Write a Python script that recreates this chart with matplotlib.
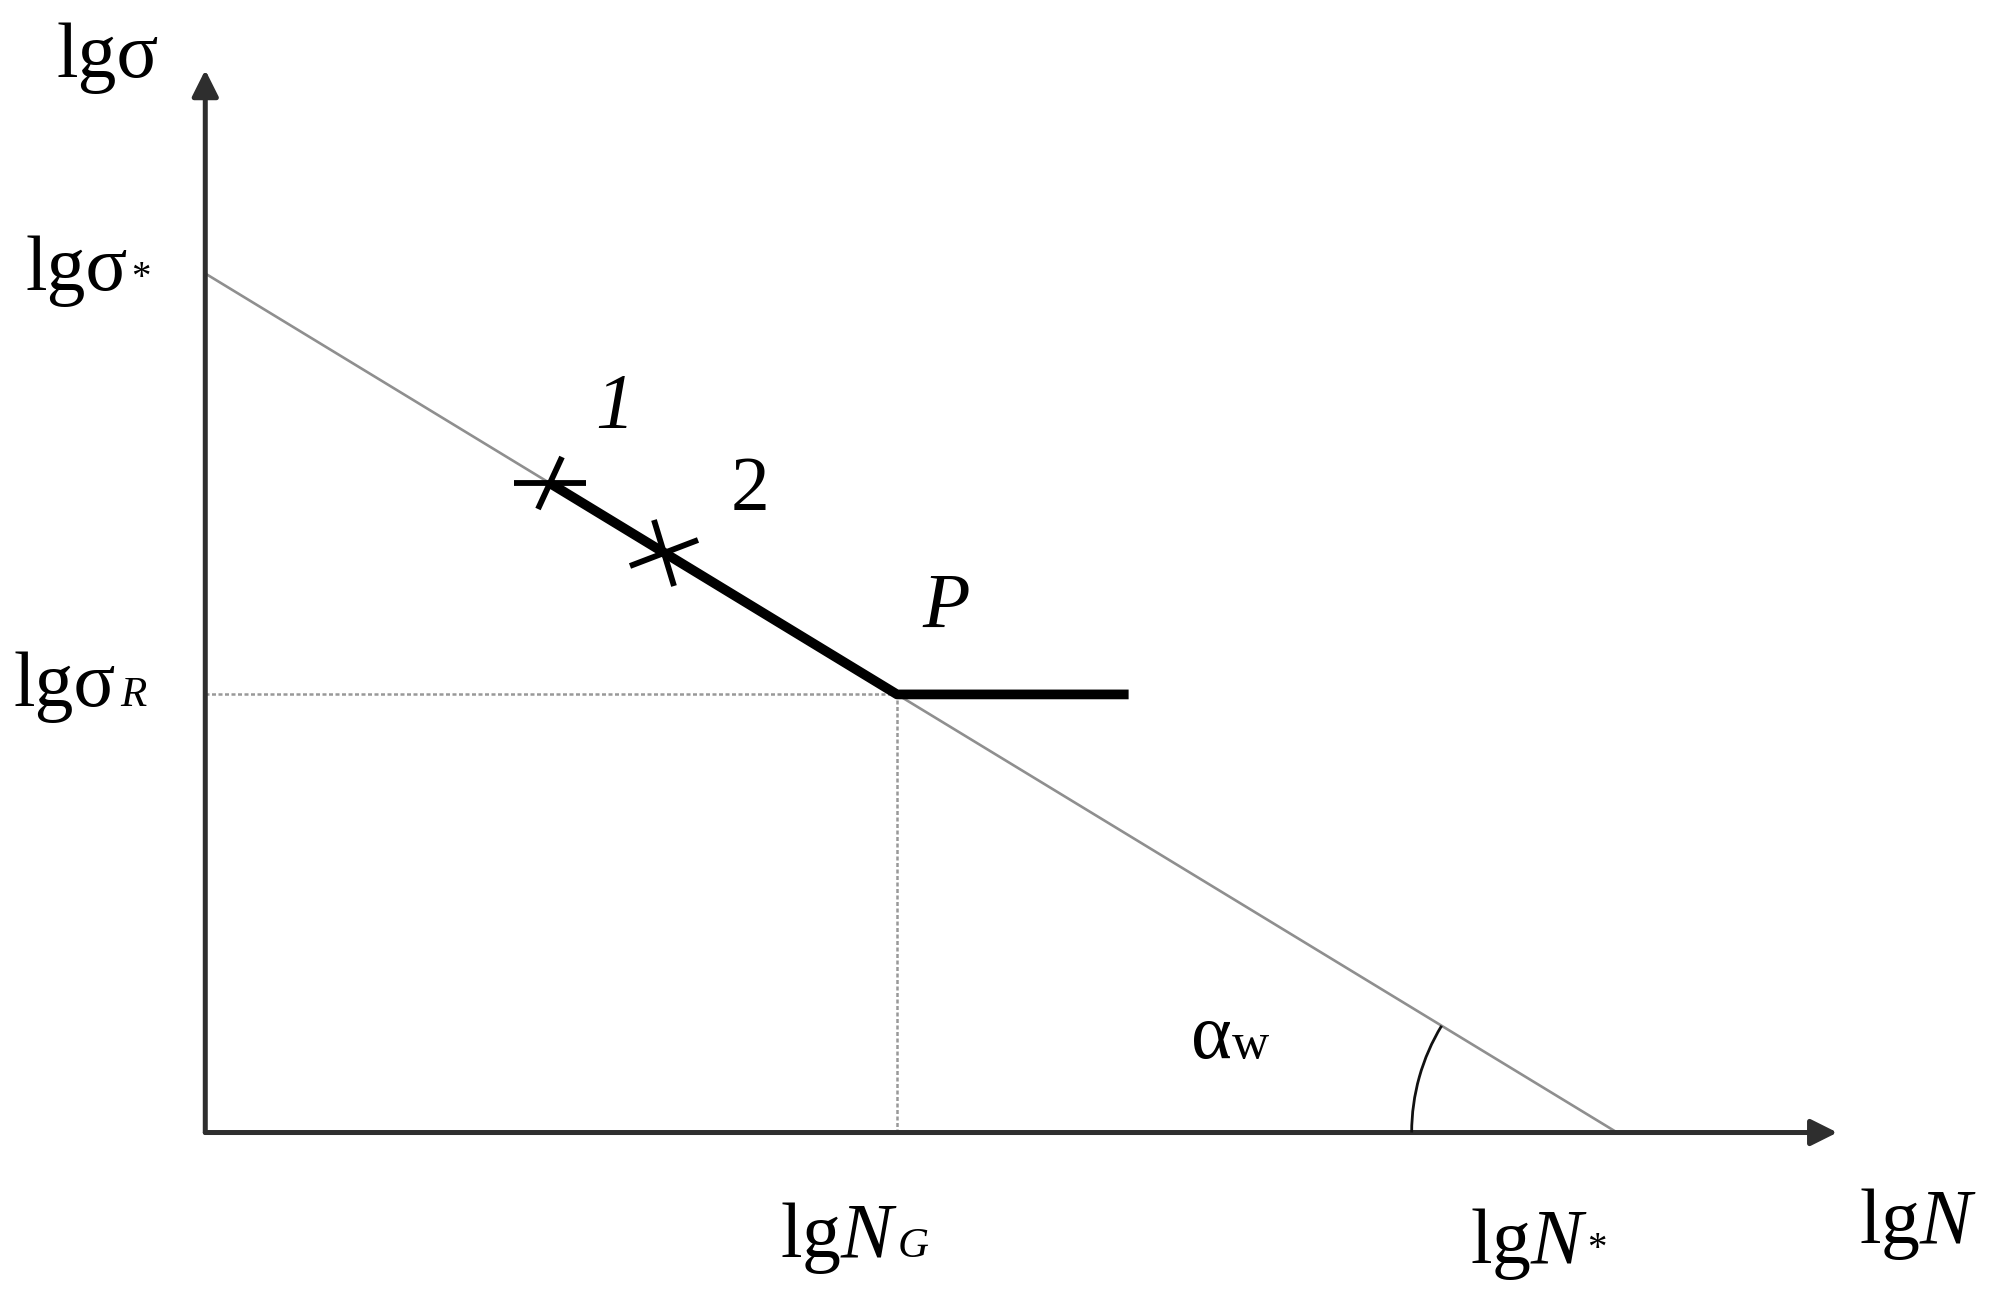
import matplotlib.pyplot as plt
from matplotlib.patches import Arc
from matplotlib.markers import MarkerStyle
from matplotlib.transforms import Affine2D

plt.rcParams['font.family'] = ['Liberation Serif', 'DejaVu Serif']
plt.rcParams['mathtext.fontset'] = 'custom'
plt.rcParams['mathtext.rm'] = 'Liberation Serif'
plt.rcParams['mathtext.it'] = 'Liberation Serif:italic'

# schematic values (arbitrary units)
sigma_star = 10.0      # lg sigma*  (intercept on y axis)
N_star = 10.0          # lg N*      (intercept on x axis)
N_G = 4.9              # lg N_G, knee point P
sigma_R = 5.1          # lg sigma_R
N_end = 6.54           # end of the horizontal branch
test_N = [2.44, 3.25]          # test points 1 and 2
test_sigma = [7.56, 6.75]
point_names = ['1', '2']
x_top = 11.56
y_top = 12.37

fig = plt.figure(figsize=(20.11, 13.16), dpi=100)
ax = fig.add_axes([0, 0, 1, 1])
ax.set_xlim(-1.454, 12.79)
ax.set_ylim(-2.136, 13.184)
ax.axis('off')

axis_col = '#2e2e2e'
ax.annotate('', xy=(x_top, 0), xytext=(0, 0),
            arrowprops=dict(arrowstyle='-|>', color=axis_col, lw=3.6,
                            mutation_scale=40, shrinkA=0, shrinkB=0))
ax.annotate('', xy=(0, y_top), xytext=(0, 0),
            arrowprops=dict(arrowstyle='-|>', color=axis_col, lw=3.6,
                            mutation_scale=40, shrinkA=0, shrinkB=0))

# Basquin line
ax.plot([0, N_star], [sigma_star, 0], color='#8f8f8f', lw=1.9, zorder=2)

# dotted guides
ax.plot([0, N_G], [sigma_R, sigma_R], color='#999999', lw=1.8,
        ls=(0, (1.6, 1.0)), zorder=2)
ax.plot([N_G, N_G], [0, sigma_R], color='#999999', lw=1.8,
        ls=(0, (1.6, 1.0)), zorder=2)

# fatigue curve
ax.plot(test_N + [N_G, N_end], test_sigma + [sigma_R, sigma_R],
        color='black', lw=7, solid_capstyle='butt', zorder=3)

# cross markers
arms = [((0, 52), (-24, 41)), ((21, 53), (17, 50))]
for n, s, (a, b) in zip(test_N, test_sigma, arms):
    ax.plot(n, s, marker=MarkerStyle('_', transform=Affine2D().rotate_deg(a[0])),
            ms=a[1], mew=4.2, color='black', zorder=4)
    ax.plot(n, s, marker=MarkerStyle('|', transform=Affine2D().rotate_deg(b[0])),
            ms=b[1], mew=4.2, color='black', zorder=4)

# angle arc
ax.add_patch(Arc((N_star, 0), 2 * 1.455, 2 * 2.39, theta1=135, theta2=180,
                 color='#111111', lw=2, zorder=3))

fs = 56


def label(x, y, main, suffix=None, sfs=31, sstyle='italic', dy=0, dx=2):
    t = ax.text(x, y, main, fontsize=fs, ha='left', va='baseline')
    if suffix:
        ax.annotate(suffix, xy=(1, y), xycoords=(t, 'data'),
                    xytext=(dx, dy), textcoords='offset points',
                    fontsize=sfs, style=sstyle, ha='left', va='baseline')
    return t


label(-1.057, 12.29, 'lgσ')
label(-1.27, sigma_star - 0.19, 'lgσ', '*', sfs=28, sstyle='normal', dy=1)
label(-1.36, sigma_R - 0.13, 'lgσ', 'R', dx=3)
label(4.07, -1.45, r'lg$N$', 'G', dx=0)
label(8.955, -1.52, r'lg$N$', '*', sfs=28, sstyle='normal', dy=3, dx=0)
label(11.71, -1.285, r'lg$N$')
label(6.98, 0.87, 'α', 'w', sfs=37, sstyle='normal', dx=0)

ax.text(2.76, 8.21, point_names[0], fontsize=fs, style='italic', va='baseline')
ax.text(3.72, 7.25, point_names[1], fontsize=fs, va='baseline')
ax.text(5.08, 5.885, 'P', fontsize=fs, style='italic', va='baseline')

fig.savefig('out.png', dpi=100)
